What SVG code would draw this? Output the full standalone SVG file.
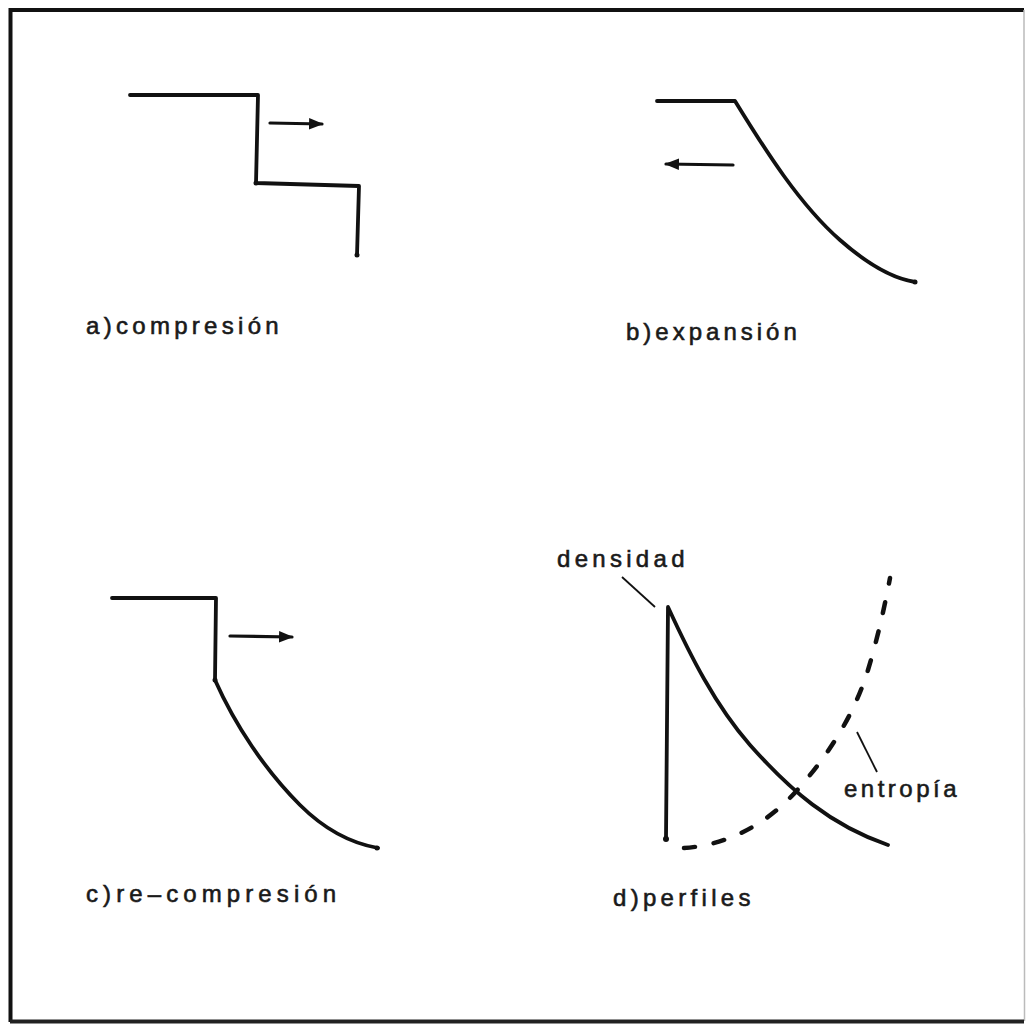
<svg xmlns="http://www.w3.org/2000/svg" width="1029" height="1025" viewBox="0 0 1029 1025">
<style>
.ln{fill:none;stroke:#111;stroke-width:3.8;stroke-linecap:round;stroke-linejoin:round}
.ar{fill:none;stroke:#111;stroke-width:3.2;stroke-linecap:round}
.ld{fill:none;stroke:#111;stroke-width:1.8}
.ds{fill:none;stroke:#111;stroke-width:4.5;stroke-linecap:round;stroke-dasharray:11 19}
.t{font-family:"Liberation Sans",Arial,sans-serif;font-size:24px;fill:#1a1a1a;stroke:#1a1a1a;stroke-width:0.6;letter-spacing:4.3px}
</style>
<defs>
<marker id="ah" viewBox="0 0 10 10" refX="9" refY="5" markerWidth="4.5" markerHeight="4.5" orient="auto">
<path d="M0,1 L10,5 L0,9 z" fill="#111"/>
</marker>
</defs>
<rect x="0" y="0" width="1029" height="1025" fill="#fff"/>
<g id="frame">
<path d="M10.5,1022 L10.5,10 L1024,10" fill="none" stroke="#111" stroke-width="4"/>
<path d="M1024,10 L1024.5,1021" fill="none" stroke="#bbb" stroke-width="1.5"/>
<path d="M10,1021.5 L1024,1021.5" fill="none" stroke="#222" stroke-width="4"/>
</g>
<g id="panel-a">
<path class="ln" d="M130,95 L258,95 L256,183 L359,186 L357,255"/>
<circle cx="256" cy="183" r="2.5" fill="#111"/>
<circle cx="357" cy="255" r="2.5" fill="#111"/>
<text class="t" x="86" y="334">a)compresión</text>
</g>
<g id="panel-b">
<path class="ln" d="M657,101 L735,101 C765,150 800,205 840,240 C865,262 890,278 915,282"/>
<circle cx="915" cy="282" r="2.5" fill="#111"/>
<text class="t" x="626" y="340" style="letter-spacing:4px">b)expansión</text>
</g>
<g id="panel-c">
<path class="ln" d="M112,598 L216,598 L215,680 C235,725 265,770 300,805 C325,830 350,843 378,848"/>
<circle cx="215" cy="680" r="2.5" fill="#111"/>
<circle cx="377" cy="848" r="2.5" fill="#111"/>
<text class="t" x="86" y="902" style="letter-spacing:5.1px">c)re–compresión</text>
</g>
<g id="panel-d">
<path class="ln" d="M666,838 L668,607 C690,655 715,705 750,745 C790,790 830,825 888,845"/>
<circle cx="666" cy="839" r="3" fill="#111"/>
<path class="ds" d="M684,848 C730,845 770,822 800,787 C832,750 855,712 868,670 C877,640 884,610 890,578"/>
<text class="t" x="557" y="567">densidad</text>
<text class="t" x="844" y="797" style="letter-spacing:3.5px">entropía</text>
<text class="t" x="613" y="906">d)perfiles</text>
</g>
<g id="connectors">
<path class="ar" d="M270,123 L322,124" marker-end="url(#ah)"/>
<path class="ar" d="M733,165 L666,164" marker-end="url(#ah)"/>
<path class="ar" d="M230,636 L292,637" marker-end="url(#ah)"/>
<path class="ld" d="M622,577 L655,607"/>
<path class="ld" d="M857,732 L877,772"/>
</g>
</svg>
